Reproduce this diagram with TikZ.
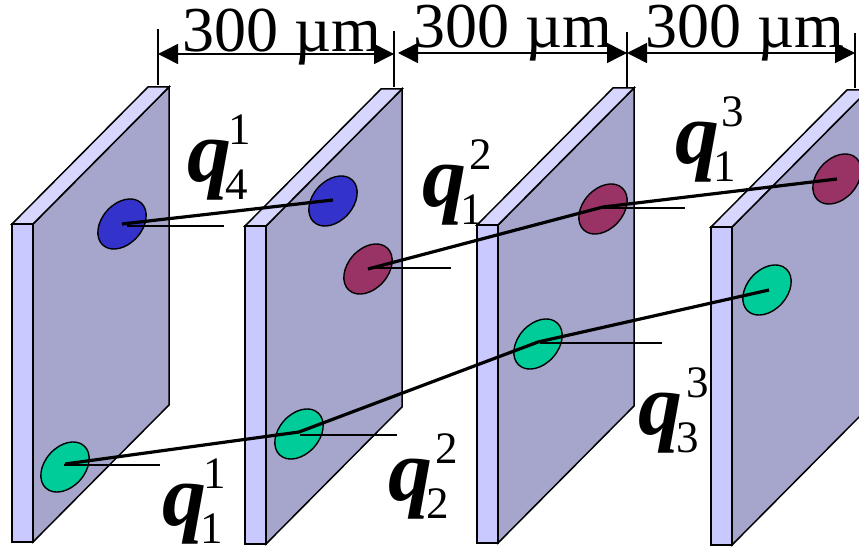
\documentclass[tikz,border=0pt]{standalone}
\usepackage{fontspec}
\setmainfont{Liberation Serif}
\usetikzlibrary{arrows.meta,shapes.geometric}
\definecolor{PlateTop}{HTML}{D6D6FF}
\definecolor{PlateEdge}{HTML}{C9C9FF}
\definecolor{PlateFace}{HTML}{A6A6CC}
\definecolor{SpotBlue}{HTML}{3333CC}
\definecolor{SpotRed}{HTML}{993366}
\definecolor{SpotGreen}{HTML}{00CC99}
\tikzset{
  plateline/.style={draw=black,line width=1.5pt,line join=miter},
  spot/.style={ellipse,draw=black,line width=1.4pt,rotate=48,minimum width=57pt,minimum height=40pt,inner sep=0pt,outer sep=0pt},
  track/.style={draw=black,line width=3.2pt},
  tick/.style={draw=black,line width=1.4pt},
  gap/.style={{Triangle[length=20pt,width=20pt]}-{Triangle[length=20pt,width=20pt]},draw=black,line width=1.5pt},
  gaplabel/.style={anchor=base west,inner sep=0pt,font=\fontsize{64}{64}\selectfont},
  qlabel/.style={anchor=base west,inner sep=0pt}
}
\newcommand{\qsym}[3][2pt]{{\fontsize{88}{88}\selectfont\bfseries\itshape q}%
  \makebox[0pt][l]{\hspace{-6pt}\raisebox{-18pt}{\fontsize{45}{45}\selectfont #2}}%
  \makebox[0pt][l]{\hspace{#1}\raisebox{37pt}{\fontsize{45}{45}\selectfont #3}}}

\begin{document}
\begin{tikzpicture}[x=1pt,y=-1pt]
  \clip (0,0) rectangle (859,548);
  % plates
  \foreach \px/\py in {12/224,245/226,477/225,711/227}{
    \begin{scope}[shift={(\px,\py)}]
      \draw[plateline,fill=PlateFace] (21,0) -- (157,-137) -- (157,181) -- (21,318) -- cycle;
      \draw[plateline,fill=PlateTop] (0,0) -- (136,-137) -- (157,-137) -- (21,0) -- cycle;
      \draw[plateline,fill=PlateEdge] (0,0) rectangle (21,318);
    \end{scope}
  }
  % spots
  \node[spot,fill=SpotBlue] (b1) at (122,224) {};
  \node[spot,fill=SpotBlue] (b2) at (333,201) {};
  \node[spot,fill=SpotRed] (r2) at (368,269) {};
  \node[spot,fill=SpotRed] (r3) at (603,209) {};
  \node[spot,fill=SpotRed] (r4) at (837,179) {};
  \node[spot,fill=SpotGreen] (g1) at (65,467) {};
  \node[spot,fill=SpotGreen] (g2) at (299,434) {};
  \node[spot,fill=SpotGreen] (g3) at (538,344) {};
  \node[spot,fill=SpotGreen] (g4) at (767,290) {};
  % tick ends
  \coordinate (e1) at (224,226);
  \coordinate (e2) at (451,268);
  \coordinate (e3) at (685,208);
  \coordinate (e4) at (160,465);
  \coordinate (e5) at (397,435);
  \coordinate (e6) at (662,343);
  \draw[tick] (b1.center) ++(5,2) -- (e1);
  \draw[tick] (r2.center) ++(2,-1) -- (e2);
  \draw[tick] (r3.center) ++(0,-1) -- (e3);
  \draw[tick] (g1.center) ++(-1,-2) -- (e4);
  \draw[tick] (g2.center) ++(1,1) -- (e5);
  \draw[tick] (g3.center) ++(2,-1) -- (e6);
  \draw[track] (b1.center) -- ([yshift=1pt]b2.center);
  \draw[track] (r2.center) -- ([yshift=2pt]r3.center) -- (r4.center);
  \draw[track] ([yshift=3pt]g1.center) -- ([yshift=2pt]g2.center) -- ([yshift=2pt]g3.center) -- ([xshift=2pt]g4.center);
  % spacing marks
  \coordinate (t1) at (158,29);
  \coordinate (t2) at (394,31);
  \coordinate (t3) at (627,32);
  \coordinate (t4) at (855,33);
  \coordinate (u1) at (158,85);
  \coordinate (u2) at (394,87);
  \coordinate (u3) at (627,88);
  \coordinate (u4) at (855,88);
  \draw[tick] (t1) -- (u1);
  \draw[tick] (t2) -- (u2);
  \draw[tick] (t3) -- (u3);
  \draw[tick] (t4) -- (u4);
  \coordinate (a1) at (158,54);
  \coordinate (a2) at (394,54);
  \coordinate (a3) at (398,53);
  \coordinate (a4) at (627,53);
  \coordinate (a5) at (855,53);
  \draw[gap] (a1) -- (a2);
  \draw[gap] (a3) -- (a4);
  \draw[gap] (a4) -- (a5);
  \node[gaplabel] (d1) at (182,52) {300 µm};
  \node[gaplabel] (d2) at (413,48) {300 µm};
  \node[gaplabel] (d3) at (645,48) {300 µm};
  % labels
  \node[qlabel] (q41) at (187,182) {\qsym[-3pt]{4}{1}};
  \node[qlabel] (q12) at (422,207) {\qsym[3pt]{1}{2}};
  \node[qlabel] (q13) at (675,164) {\qsym[2pt]{1}{3}};
  \node[qlabel] (q11) at (162,525) {\qsym[-3pt]{1}{1}};
  \node[qlabel] (q22) at (388,500) {\qsym[3pt]{2}{2}};
  \node[qlabel] (q33) at (638,434) {\qsym[4pt]{3}{3}};
\end{tikzpicture}
\end{document}
